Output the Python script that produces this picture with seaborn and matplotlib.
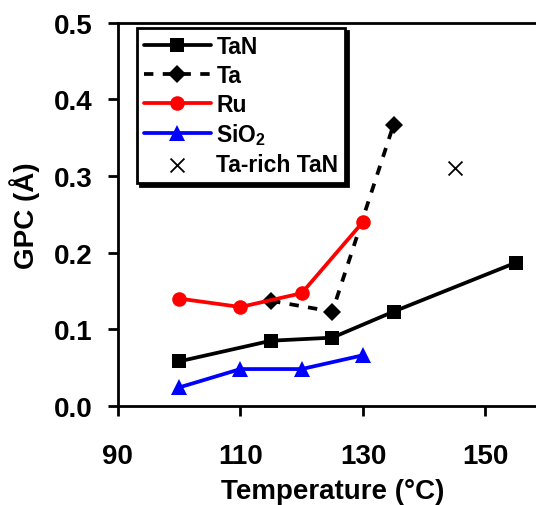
import numpy as np
import pandas as pd
import matplotlib
matplotlib.use('Agg')
import matplotlib.pyplot as plt
import seaborn as sns

# data
tan_temp = [100, 115, 125, 135, 155]
tan_gpc = [0.058, 0.085, 0.089, 0.123, 0.187]
ta_temp = [115, 125, 135]
ta_gpc = [0.137, 0.123, 0.367]
ru_temp = [100, 110, 120, 130]
ru_gpc = [0.140, 0.129, 0.147, 0.240]
sio2_temp = [100, 110, 120, 130]
sio2_gpc = [0.024, 0.048, 0.048, 0.066]
tarich_temp = [145]
tarich_gpc = [0.310]

sns.set_style('ticks', {'axes.edgecolor': 'black', 'text.color': 'black',
                        'axes.labelcolor': 'black', 'xtick.color': 'black',
                        'ytick.color': 'black'})
plt.rcParams['font.family'] = ['Liberation Sans', 'DejaVu Sans']
plt.rcParams['font.weight'] = 'bold'
plt.rcParams['axes.labelweight'] = 'bold'
plt.rcParams['mathtext.fontset'] = 'custom'
plt.rcParams['mathtext.bf'] = 'Liberation Sans:bold'
plt.rcParams['mathtext.rm'] = 'Liberation Sans:bold'
plt.rcParams['mathtext.default'] = 'bf'

fig = plt.figure(figsize=(5.36, 5.06), dpi=100)
ax = fig.add_axes([0.220, 0.196, 0.80, 0.757])

lw = 2.7
sns.lineplot(x=tan_temp, y=tan_gpc, ax=ax, color='black', linewidth=lw, marker='s',
             markersize=10, markeredgewidth=0, label='TaN')
sns.lineplot(x=ta_temp, y=ta_gpc, ax=ax, color='black', linewidth=lw, marker='D',
             markersize=9.5, markeredgewidth=0, linestyle=(0, (2.5, 2.5)), label='Ta')
sns.lineplot(x=ru_temp, y=ru_gpc, ax=ax, color='red', linewidth=lw, marker='o',
             markersize=10.5, markeredgewidth=0, label='Ru')
sns.lineplot(x=sio2_temp, y=sio2_gpc, ax=ax, color='blue', linewidth=lw, marker='^',
             markersize=12, markeredgewidth=0, label=r'SiO$_2$')
sns.scatterplot(x=tarich_temp, y=tarich_gpc, ax=ax, color='black', marker='x',
                s=100, linewidth=1.3, label='Ta-rich TaN')

ax.set_xlim(90, 160)
ax.set_ylim(0, 0.5)
ax.set_xticks([90, 110, 130, 150])
ax.set_yticks([0.0, 0.1, 0.2, 0.3, 0.4, 0.5])
ax.yaxis.set_major_formatter(matplotlib.ticker.FormatStrFormatter('%.1f'))
ax.tick_params(labelsize=20, width=2, length=7, direction='out')
ax.tick_params(axis='y', pad=11)
ax.tick_params(axis='x', pad=20)
for s in ax.spines.values():
    s.set_linewidth(2)
ax.set_xlabel('Temperature (°C)', fontsize=20, labelpad=6)
ax.set_ylabel('GPC (Å)', fontsize=20, labelpad=10)

leg = ax.legend(loc='upper left', bbox_to_anchor=(0.045, 0.987), fontsize=16.5,
                frameon=True, fancybox=False, shadow={'color': 'black', 'alpha': 1},
                edgecolor='black', framealpha=1, handlelength=2.9,
                handletextpad=0.25, labelspacing=0.26, borderpad=0.3,
                borderaxespad=0)
leg.get_frame().set_linewidth(2)

fig.savefig('out.png', dpi=100)
